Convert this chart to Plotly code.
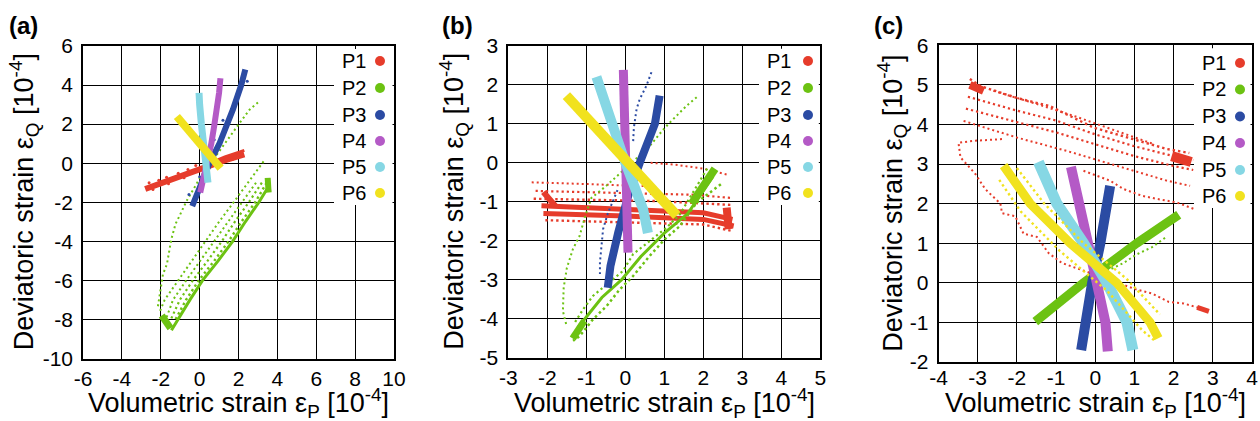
import plotly.graph_objects as go

W, H = 1260, 421
FONT = "Liberation Sans, Arial, Helvetica, sans-serif"

SERIES = ["P1", "P2", "P3", "P4", "P5", "P6"]
COLORS = {"P1": "#e63c2b", "P2": "#6cc212", "P3": "#2b4ba3",
          "P4": "#b45ac6", "P5": "#86d7e4", "P6": "#f1e21e"}

A_XTICKS = [-6, -4, -2, 0, 2, 4, 6, 8, 10]
A_YTICKS = [-10, -8, -6, -4, -2, 0, 2, 4, 6]
B_XTICKS = [-3, -2, -1, 0, 1, 2, 3, 4, 5]
B_YTICKS = [-5, -4, -3, -2, -1, 0, 1, 2, 3]
C_XTICKS = [-4, -3, -2, -1, 0, 1, 2, 3, 4]
C_YTICKS = [-2, -1, 0, 1, 2, 3, 4, 5, 6]

X_TITLE = "Volumetric strain ε<sub>P</sub> [10<sup>-4</sup>]"
Y_TITLE = "Deviatoric strain ε<sub>Q</sub> [10<sup>-4</sup>]"

# ---------------- panel (a) readings: (volumetric, deviatoric) ----------------
A_P1_BAND = [(-2.8, -1.32), (-1.37, -0.8), (0.0, -0.3), (1.2, 0.12), (2.3, 0.45)]
A_P1_UPPER = [(0.4, -0.05), (1.3, 0.32), (2.3, 0.66)]
A_P1_PTS = [(-2.6, -1.0), (-2.1, -0.88), (-1.7, -0.72), (-1.1, -0.52), (-0.6, -0.32),
            (-0.2, -0.12), (-2.4, -1.35), (-1.6, -1.05), (-0.8, -0.75), (0.4, -0.28),
            (1.0, -0.05), (1.7, 0.2)]
A_P2_THIN = [(3.0, 3.11), (2.57, 2.74), (2.06, 2.06), (1.63, 1.46), (1.2, 0.86), (0.86, 0.35),
             (0.51, -0.08), (0.17, -0.5), (-0.09, -0.93), (-0.34, -1.36), (-0.68, -1.95),
             (-1.03, -2.69), (-1.24, -3.11), (-1.46, -3.91), (-1.6, -4.6), (-1.68, -5.16),
             (-1.89, -5.7), (-2.0, -6.47), (-2.1, -6.98), (-2.15, -7.36)]
A_P2_LEFT = [(3.29, 0.09), (2.74, -0.67), (2.23, -1.36), (1.75, -2.0), (1.0, -3.0), (0.3, -4.0),
             (-0.4, -5.0), (-1.1, -6.0), (-1.8, -7.0), (-2.05, -7.6)]
A_P2_S1 = [(2.9, -1.0), (2.18, -2.0), (1.45, -3.0), (0.76, -4.0), (0.05, -5.0), (-0.69, -6.0),
           (-1.37, -7.0), (-1.74, -8.0)]
A_P2_S2 = [(3.2, -1.0), (2.53, -2.0), (1.81, -3.0), (1.14, -4.0), (0.41, -5.0), (-0.35, -6.0),
           (-1.02, -7.0), (-1.48, -8.0)]
A_P2_S3 = [(3.45, -1.0), (2.86, -2.0), (2.15, -3.0), (1.49, -4.0), (0.75, -5.0), (-0.04, -6.0),
           (-0.7, -7.0), (-1.24, -8.0)]
A_P2_RIGHT = [(3.6, -1.1), (3.05, -2.0), (2.35, -3.0), (1.7, -4.0), (0.95, -5.0), (0.15, -6.0),
              (-0.5, -7.0), (-1.1, -8.0), (-1.45, -8.55)]
A_P2_TOP = [(3.5, -0.75), (3.55, -1.5)]
A_P2_BOTTOM = [(-1.95, -7.8), (-1.5, -8.45)]
A_P3_BAND = [(-0.38, -2.2), (0.17, -0.84), (0.51, 0.0), (1.03, 1.03), (1.46, 2.0), (1.71, 2.74),
             (2.14, 4.0), (2.35, 4.8)]
A_P3_PTS = [(-0.55, -1.6), (0.0, -0.7), (0.3, 0.3), (0.75, 1.2), (1.2, 2.2), (1.9, 3.1),
            (2.45, 4.2), (2.0, 3.8)]
A_P4_BAND = [(0.03, -1.5), (0.2, -0.8), (0.34, 0.0), (0.6, 1.0), (0.75, 1.9), (0.89, 2.7),
             (1.0, 3.6), (1.07, 4.35)]
A_P5_BAND = [(0.43, -1.0), (0.29, 0.0), (0.17, 1.03), (0.09, 2.0), (0.0, 3.0), (-0.03, 3.6)]
A_P6_BAND = [(-1.17, 2.39), (1.08, -0.25)]

# ---------------- panel (b) readings ----------------
B_P1_TOP = [(-2.4, -0.5), (-1.6, -0.52), (-0.8, -0.55), (0.0, -0.58), (0.6, -0.6)]
B_P1_HIGH = [(0.65, 0.0), (1.3, -0.05), (2.0, -0.15), (2.6, -0.3)]
B_P1_MID1 = [(-2.3, -0.72), (-1.0, -0.75), (0.5, -0.78), (1.8, -0.82), (2.7, -0.9)]
B_P1_MID2 = [(-2.35, -0.92), (-0.8, -0.95), (0.8, -0.98), (2.75, -1.08)]
B_P1_CORE1 = [(-2.15, -1.1), (0.0, -1.18), (2.0, -1.28), (2.75, -1.45)]
B_P1_CORE2 = [(-2.1, -1.3), (0.0, -1.36), (2.0, -1.45), (2.78, -1.62)]
B_P1_LOW = [(-2.05, -1.47), (0.0, -1.52), (2.0, -1.58), (2.75, -1.75)]
B_P1_RIGHT = [(2.6, -1.15), (2.65, -1.7)]
B_P1_LEFT = [(-2.1, -0.75), (-1.8, -1.1)]
B_P2_THIN = [(1.83, 1.68), (1.57, 1.46), (1.31, 1.2), (1.1, 0.99), (0.88, 0.74), (0.67, 0.48),
             (0.46, 0.27), (0.0, -0.15), (-0.5, -0.6), (-0.87, -0.9), (-1.04, -1.4),
             (-1.17, -1.87), (-1.34, -2.2), (-1.5, -2.7), (-1.58, -3.2), (-1.6, -3.8), (-1.5, -4.2)]
B_P2_EDGE_UL = [(2.1, -0.15), (1.4, -1.32), (1.06, -1.66), (0.63, -2.0), (0.2, -2.34),
                (-0.06, -2.77), (-0.48, -3.11), (-0.83, -3.41), (-1.08, -3.75), (-1.3, -4.1)]
B_P2_EDGE_LR = [(2.45, -0.55), (1.83, -1.02), (1.4, -1.62), (1.01, -1.96), (0.63, -2.38),
                (0.2, -2.9), (-0.14, -3.24), (-0.48, -3.67), (-0.83, -4.01), (-1.17, -4.44),
                (-1.34, -4.56)]
B_P2_MID = [(2.25, -0.35), (1.6, -1.3), (1.0, -1.8), (0.4, -2.4), (-0.1, -3.0), (-0.6, -3.45),
            (-1.2, -4.2)]
B_P2_TOPCL = [(1.7, -1.05), (2.3, -0.15)]
B_P2_BOTCL = [(-1.05, -4.05), (-1.35, -4.5)]
B_P3_BAND = [(-0.45, -3.2), (-0.38, -2.64), (-0.18, -1.78), (0.1, -0.75), (0.37, 0.0),
             (0.58, 0.52), (0.76, 1.0), (0.88, 1.72)]
B_P3_UP = [(0.67, 2.32), (0.54, 1.97), (0.37, 1.63), (0.29, 1.38), (0.22, 0.9), (0.2, 0.52)]
B_P3_LEFT = [(-0.2, -0.7), (-0.45, -1.3), (-0.57, -1.7), (-0.61, -2.1), (-0.65, -2.55),
             (-0.65, -2.85)]
B_P4_BAND = [(-0.05, 2.38), (-0.02, 1.5), (0.0, 0.5), (0.02, -0.5), (0.05, -1.5), (0.07, -2.3)]
B_P5_BAND = [(-0.74, 2.2), (-0.48, 1.37), (-0.18, 0.52), (0.0, 0.0), (0.29, -0.75),
             (0.46, -1.2), (0.58, -1.8)]
B_P6_BAND = [(-1.51, 1.72), (1.32, -1.35)]

# ---------------- panel (c) readings ----------------
C_P1_S1 = [(-3.2, 5.15), (-2.93, 4.97), (-2.0, 4.67), (-1.15, 4.46), (-0.04, 3.92), (0.98, 3.63),
           (1.83, 3.38), (2.4, 3.28)]
C_P1_S1B = [(-2.6, 4.85), (-1.5, 4.52), (-0.5, 4.2), (0.5, 3.85), (1.5, 3.5)]
C_P1_S2 = [(-3.25, 4.7), (-2.0, 4.35), (-1.0, 4.1), (0.0, 3.75), (1.0, 3.45), (2.0, 3.2), (2.5, 3.1)]
C_P1_S3 = [(-3.3, 4.4), (-2.0, 4.05), (-1.0, 3.8), (0.0, 3.5), (1.0, 3.2), (2.0, 2.95), (2.5, 2.85)]
C_P1_S4 = [(-3.36, 4.09), (-2.0, 3.67), (-0.72, 3.33), (0.13, 3.08), (0.98, 2.83), (1.83, 2.58),
           (2.42, 2.45)]
C_P1_S5 = [(-0.3, 2.83), (0.38, 2.58), (0.72, 2.37), (1.19, 2.2), (1.57, 2.12), (2.08, 2.03),
           (2.51, 1.87)]
C_P1_LOOP = [(-2.38, 3.63), (-3.06, 3.59), (-3.49, 3.54), (-3.44, 3.17), (-3.06, 2.75),
             (-2.81, 2.37), (-2.42, 2.0), (-2.38, 1.76), (-2.04, 1.68), (-1.83, 1.24),
             (-1.49, 1.16), (-1.19, 0.75), (-0.85, 0.5), (-0.43, 0.36), (0.3, 0.1),
             (1.02, -0.16), (1.45, -0.27), (1.87, -0.48), (2.25, -0.52), (2.6, -0.62), (2.9, -0.72)]
C_P1_TL = [(-3.2, 5.0), (-2.85, 4.85)]
C_P1_TR = [(1.95, 3.2), (2.45, 3.05)]
C_P1_BR = [(2.6, -0.62), (2.9, -0.72)]
C_P2_BAND = [(-1.53, -0.98), (-0.3, 0.0), (1.06, 1.0), (2.13, 1.72)]
C_P2_LOW = [(0.3, 0.3), (0.72, 0.5), (1.06, 0.72), (1.45, 0.9), (1.8, 1.15)]
C_P3_BAND = [(-0.36, -1.7), (-0.26, -1.0), (-0.08, 0.0), (0.13, 1.0), (0.26, 1.66), (0.38, 2.45)]
C_P4_BAND = [(-0.62, 2.93), (-0.43, 2.0), (-0.17, 1.0), (0.04, 0.0), (0.26, -1.0), (0.32, -1.73)]
C_P5_BAND = [(-1.45, 3.05), (-0.98, 2.0), (-0.3, 1.0), (0.3, 0.0), (0.81, -1.0), (0.96, -1.7)]
C_P6_BAND = [(-2.34, 2.96), (-1.66, 2.0), (-0.64, 1.0), (0.55, 0.0), (1.4, -1.0), (1.61, -1.4)]
C_P6_UPPER = [(-2.0, 2.9), (-1.3, 2.0), (-0.3, 1.0), (0.8, 0.1), (1.65, -0.8)]
C_P6_LOWER = [(-2.45, 2.6), (-1.9, 1.8), (-0.9, 0.8), (0.3, -0.2), (1.2, -1.2), (1.5, -1.45)]

# ---------------- how each reading is drawn ----------------
# (series, points, kind, width)   kind: band = solid stroke, dots = dotted stroke, pts = markers
LAYERS = {
    "a": [
        ("P1", A_P1_BAND, "band", 6), ("P1", A_P1_UPPER, "band", 3), ("P1", A_P1_PTS, "pts", 3),
        ("P2", A_P2_THIN, "dots", 2), ("P2", A_P2_LEFT, "dots", 2), ("P2", A_P2_S1, "dots", 2),
        ("P2", A_P2_S2, "dots", 2.2), ("P2", A_P2_S3, "dots", 2.4), ("P2", A_P2_RIGHT, "band", 3),
        ("P2", A_P2_TOP, "band", 6), ("P2", A_P2_BOTTOM, "band", 7),
        ("P3", A_P3_BAND, "band", 6), ("P3", A_P3_PTS, "pts", 3),
        ("P4", A_P4_BAND, "band", 6),
        ("P5", A_P5_BAND, "band", 7),
        ("P6", A_P6_BAND, "band", 8),
    ],
    "b": [
        ("P1", B_P1_TOP, "dots", 2), ("P1", B_P1_HIGH, "dots", 2), ("P1", B_P1_MID1, "dots", 2.2),
        ("P1", B_P1_MID2, "dots", 2.4), ("P1", B_P1_CORE1, "band", 5), ("P1", B_P1_CORE2, "band", 5),
        ("P1", B_P1_LOW, "dots", 2.4), ("P1", B_P1_RIGHT, "band", 8), ("P1", B_P1_LEFT, "band", 6),
        ("P2", B_P2_THIN, "dots", 2), ("P2", B_P2_EDGE_UL, "dots", 2.2),
        ("P2", B_P2_EDGE_LR, "dots", 2.5), ("P2", B_P2_MID, "band", 3),
        ("P2", B_P2_TOPCL, "band", 8), ("P2", B_P2_BOTCL, "band", 7),
        ("P3", B_P3_BAND, "band", 8), ("P3", B_P3_UP, "dots", 2), ("P3", B_P3_LEFT, "dots", 2),
        ("P4", B_P4_BAND, "band", 9),
        ("P5", B_P5_BAND, "band", 10),
        ("P6", B_P6_BAND, "band", 10),
    ],
    "c": [
        ("P1", C_P1_S1, "dots", 2.4), ("P1", C_P1_S1B, "dots", 2), ("P1", C_P1_S2, "dots", 2.2),
        ("P1", C_P1_S3, "dots", 2.2), ("P1", C_P1_S4, "dots", 2), ("P1", C_P1_S5, "dots", 2),
        ("P1", C_P1_LOOP, "dots", 2), ("P1", C_P1_TL, "band", 8), ("P1", C_P1_TR, "band", 10),
        ("P1", C_P1_BR, "band", 5),
        ("P2", C_P2_BAND, "band", 9), ("P2", C_P2_LOW, "dots", 2),
        ("P3", C_P3_BAND, "band", 10),
        ("P4", C_P4_BAND, "band", 10),
        ("P5", C_P5_BAND, "band", 11),
        ("P6", C_P6_BAND, "band", 9), ("P6", C_P6_UPPER, "dots", 2.4), ("P6", C_P6_LOWER, "dots", 2.4),
    ],
}

# panel frames in pixels: left, right, top, bottom ; legend text x, marker x, row ys
PANELS = [
    dict(key="a", label="(a)", xt=A_XTICKS, yt=A_YTICKS, l=83, r=394, t=46, b=358.5,
         lab_x=7, ytitle_x=24, leg_tx=340, leg_mx=380, xstand=0,
         leg_y=[61, 88, 115, 141, 167, 193]),
    dict(key="b", label="(b)", xt=B_XTICKS, yt=B_YTICKS, l=508.3, r=820.3, t=45.7, b=358,
         lab_x=440, ytitle_x=454, leg_tx=765, leg_mx=808, xstand=0,
         leg_y=[61, 88, 115, 141, 167, 193]),
    dict(key="c", label="(c)", xt=C_XTICKS, yt=C_YTICKS, l=938.5, r=1252, t=45.3, b=362,
         lab_x=872, ytitle_x=892, leg_tx=1200, leg_mx=1240, xstand=-4,
         leg_y=[63, 89.5, 116.5, 143, 170, 196]),
]


def px(x):
    return x / W


def py(y):
    return 1 - y / H


fig = go.Figure()
layout = dict(width=W, height=H, margin=dict(l=0, r=0, t=0, b=0, pad=0), autosize=False,
              paper_bgcolor="white", plot_bgcolor="white", showlegend=False,
              font=dict(family=FONT, color="black"))
annotations, shapes = [], []

for i, p in enumerate(PANELS):
    n = "" if i == 0 else str(i + 1)
    common = dict(showgrid=True, gridcolor="black", gridwidth=1, showline=True,
                  linecolor="black", linewidth=1.6, mirror=True, zeroline=False,
                  ticks="", tickmode="array", fixedrange=True, automargin=False,
                  tickfont=dict(family=FONT, size=21, color="black"))
    layout["xaxis" + n] = dict(common, range=[p["xt"][0], p["xt"][-1]], tickvals=p["xt"],
                               ticktext=[str(v) for v in p["xt"]],
                               domain=[px(p["l"]), px(p["r"])], anchor="y" + n,
                               ticklabelstandoff=p["xstand"])
    layout["yaxis" + n] = dict(common, range=[p["yt"][0], p["yt"][-1]], tickvals=p["yt"],
                               ticktext=[str(v) for v in p["yt"]],
                               domain=[py(p["b"]), py(p["t"])], anchor="x" + n,
                               ticklabelstandoff=4)

    for series, pts, kind, w in LAYERS[p["key"]]:
        xs = [q[0] for q in pts]
        ys = [q[1] for q in pts]
        col = COLORS[series]
        if kind == "pts":
            tr = go.Scatter(x=xs, y=ys, mode="markers",
                            marker=dict(color=col, size=w, line=dict(width=0)))
        elif kind == "band":
            tr = go.Scatter(x=xs, y=ys, mode="lines", line=dict(color=col, width=w))
        else:
            tr = go.Scatter(x=xs, y=ys, mode="lines",
                            line=dict(color=col, width=w, dash="%.1fpx,3px" % w))
        tr.update(xaxis="x" + n, yaxis="y" + n, hoverinfo="skip", name=series)
        fig.add_trace(tr)

    cx = (p["l"] + p["r"]) / 2
    cy = (p["t"] + p["b"]) / 2
    annotations.append(dict(text=X_TITLE, x=px(cx), y=py(403), xref="paper", yref="paper",
                            xanchor="center", yanchor="middle", showarrow=False,
                            font=dict(family=FONT, size=27, color="black")))
    annotations.append(dict(text=Y_TITLE, x=px(p["ytitle_x"]), y=py(cy), xref="paper",
                            yref="paper", xanchor="center", yanchor="middle", textangle=-90,
                            showarrow=False, font=dict(family=FONT, size=27, color="black")))
    annotations.append(dict(text="<b>%s</b>" % p["label"], x=px(p["lab_x"]), y=py(26),
                            xref="paper", yref="paper", xanchor="left", yanchor="middle",
                            showarrow=False, font=dict(family=FONT, size=24, color="black")))
    # legend box
    shapes.append(dict(type="rect", xref="paper", yref="paper", x0=px(p["leg_tx"] - 6),
                       x1=px(p["r"] - 1.5), y0=py(p["leg_y"][-1] + 12), y1=py(p["t"] + 3),
                       fillcolor="white", line=dict(width=0), layer="above"))
    for s, yy in zip(SERIES, p["leg_y"]):
        annotations.append(dict(text=s, x=px(p["leg_tx"]), y=py(yy), xref="paper", yref="paper",
                                xanchor="left", yanchor="middle", showarrow=False,
                                font=dict(family=FONT, size=20, color="black")))
        shapes.append(dict(type="circle", xref="paper", yref="paper", xsizemode="pixel",
                           ysizemode="pixel", xanchor=px(p["leg_mx"]), yanchor=py(yy),
                           x0=-5, x1=5, y0=-5, y1=5, fillcolor=COLORS[s],
                           line=dict(width=0), layer="above"))

layout["annotations"] = annotations
layout["shapes"] = shapes
fig.update_layout(**layout)
fig.write_html("out.html", config={"displayModeBar": False, "responsive": False},
               post_script="document.body.style.margin='0px';"
                           "document.body.style.overflow='hidden';")
